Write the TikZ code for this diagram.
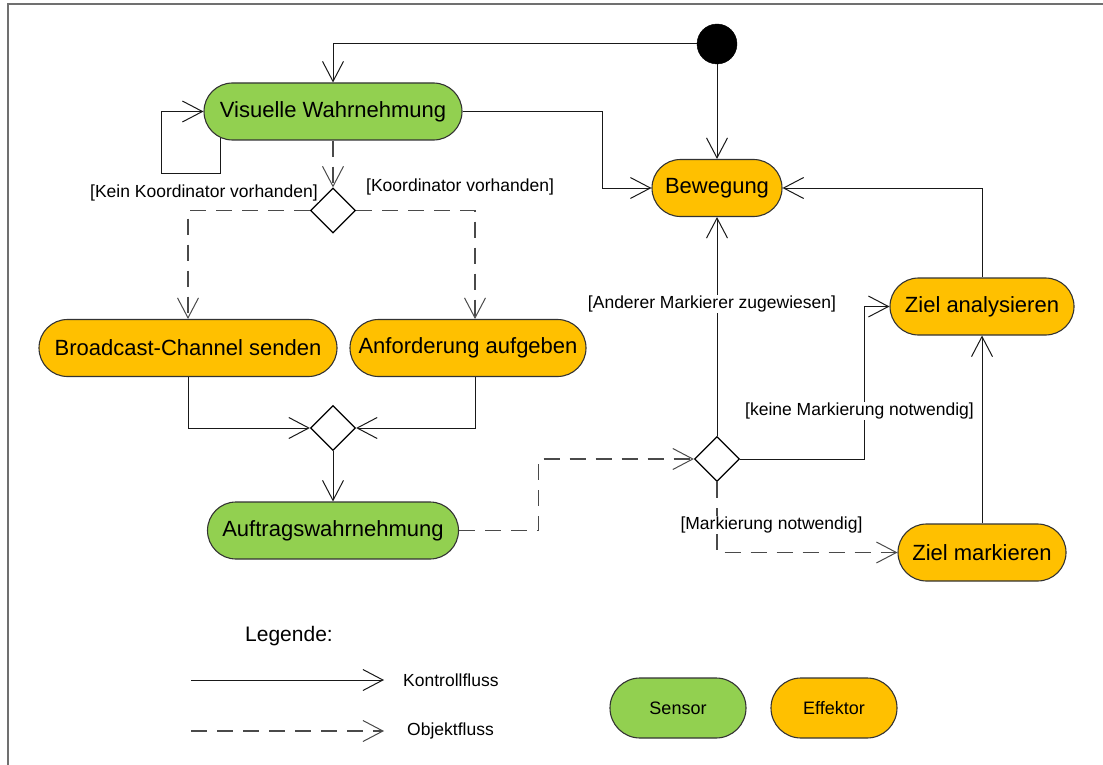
\documentclass[tikz,border=0pt]{standalone}
\usepackage{fontspec}
\setmainfont{Liberation Sans}
\usetikzlibrary{arrows.meta,shapes.geometric}
\definecolor{sens}{HTML}{92D050}
\definecolor{eff}{HTML}{FFC000}
\definecolor{framegray}{HTML}{707070}
\definecolor{objgray}{HTML}{4A4A4A}
\tikzset{
  act/.style={rectangle, rounded corners=28.5pt, draw=black!80, line width=1.1pt,
    minimum height=57pt, inner xsep=0pt, inner ysep=0pt,
    font=\fontsize{22}{26}\selectfont},
  sensor/.style={act, fill=sens},
  effector/.style={act, fill=eff},
  legbox/.style={act, minimum height=60pt, rounded corners=30pt,
    font=\fontsize{18}{22}\selectfont},
  decision/.style={diamond, draw=black, line width=1.2pt, fill=white,
    minimum width=45pt, minimum height=45pt, inner sep=0pt, aspect=1},
  startnode/.style={circle, fill=black, draw=black, minimum size=40pt, inner sep=0pt},
  flow/.style={line width=1pt, draw=black!90,
    -{Straight Barb[length=20pt,width=21pt,line width=1pt]}},
  objflow/.style={flow, draw=objgray, line width=1.1pt, dash pattern=on 16pt off 10pt},
  guard/.style={inner sep=1pt, fill=white, font=\fontsize{17.5}{21}\selectfont},
  legtext/.style={inner sep=0pt, font=\fontsize{17.5}{21}\selectfont},
}
\begin{document}
\begin{tikzpicture}[x=1pt,y=-1pt]
\useasboundingbox (0,0) rectangle (1103,765);
% frame
\draw[framegray, line width=1.6pt] (8,765) -- (8,4) -- (1103,4);

% activities
\node[startnode] (st) at (717,44) {};
\node[sensor, minimum width=258pt] (vis) at (333,111.5) {Visuelle Wahrnehmung};
\node[effector, minimum width=130pt] (bew) at (717,188) {Bewegung};
\node[effector, minimum width=298pt] (bc) at (188,348) {Broadcast-Channel senden};
\node[effector, minimum width=236pt] (anf) at (468,348) {Anforderung aufgeben};
\node[sensor, minimum width=251pt] (auf) at (333,530.5) {Auftragswahrnehmung};
\node[effector, minimum width=184pt] (zan) at (982,306.5) {Ziel analysieren};
\node[effector, minimum width=168pt] (zma) at (982,552.5) {Ziel markieren};
\node[decision] (d1) at (333,210.5) {};
\node[decision] (d2) at (333,428) {};
\node[decision] (d3) at (717,459) {};

% control flow
\draw[flow] (st.west) -| (vis.north);
\draw[flow] (st.south) -- (bew.north);
\draw[flow] (vis.east) -- ++(140,0) |- (bew.west);
\draw[flow] ([xshift=17pt,yshift=2.5pt]vis.south west) -- ++(0,35) -- ++(-59,0) |- (vis.west);
\draw[flow] (bc.south) |- (d2.west);
\draw[flow] ([xshift=7pt]anf.south) |- (d2.east);
\draw[flow] (d2.south) -- (auf.north);
\draw[flow] (d3.north) -- (bew.south);
\draw[flow] (d3.east) -- ++(124,0) |- (zan.west);
\draw[flow] (zma.north) -- (zan.south);
\draw[flow] (zan.north) |- (bew.east);

% object flow
\draw[objflow] (vis.south) -- (d1.north);
\draw[objflow] (d1.west) -| (bc.north);
\draw[objflow] (d1.east) -| ([xshift=7pt]anf.north);
\draw[objflow] (auf.east) -- ++(79,0) |- (d3.west);
\draw[objflow] (d3.south) |- (zma.west);

% guards
\node[guard, anchor=east] (g1) at (319,193) {[Kein Koordinator vorhanden]};
\node[guard, anchor=west] (g2) at (365,187) {[Koordinator vorhanden]};
\node[guard] (g3) at (712,304) {[Anderer Markierer zugewiesen]};
\node[guard] (g4) at (859.5,411) {[keine Markierung notwendig]};
\node[guard] (g5) at (771.5,525) {[Markierung notwendig]};

% legend
\node[inner sep=0pt, font=\fontsize{21}{25}\selectfont] (leg) at (289,636) {Legende:};
\coordinate (k0) at (191,680);
\node[legtext, anchor=west] (kt) at (403,680) {Kontrollfluss};
\draw[flow] (k0) -- ([xshift=-19pt]kt.west);
\coordinate (o0) at (191,731);
\node[legtext, anchor=west] (ot) at (407,731) {Objektfluss};
\draw[objflow] (o0) -- ([xshift=-23pt]ot.west);
\node[legbox, fill=sens, minimum width=136pt] (sen) at (678,708) {Sensor};
\node[legbox, fill=eff, minimum width=126pt] (efk) at (834,708) {Effektor};
\end{tikzpicture}
\end{document}
